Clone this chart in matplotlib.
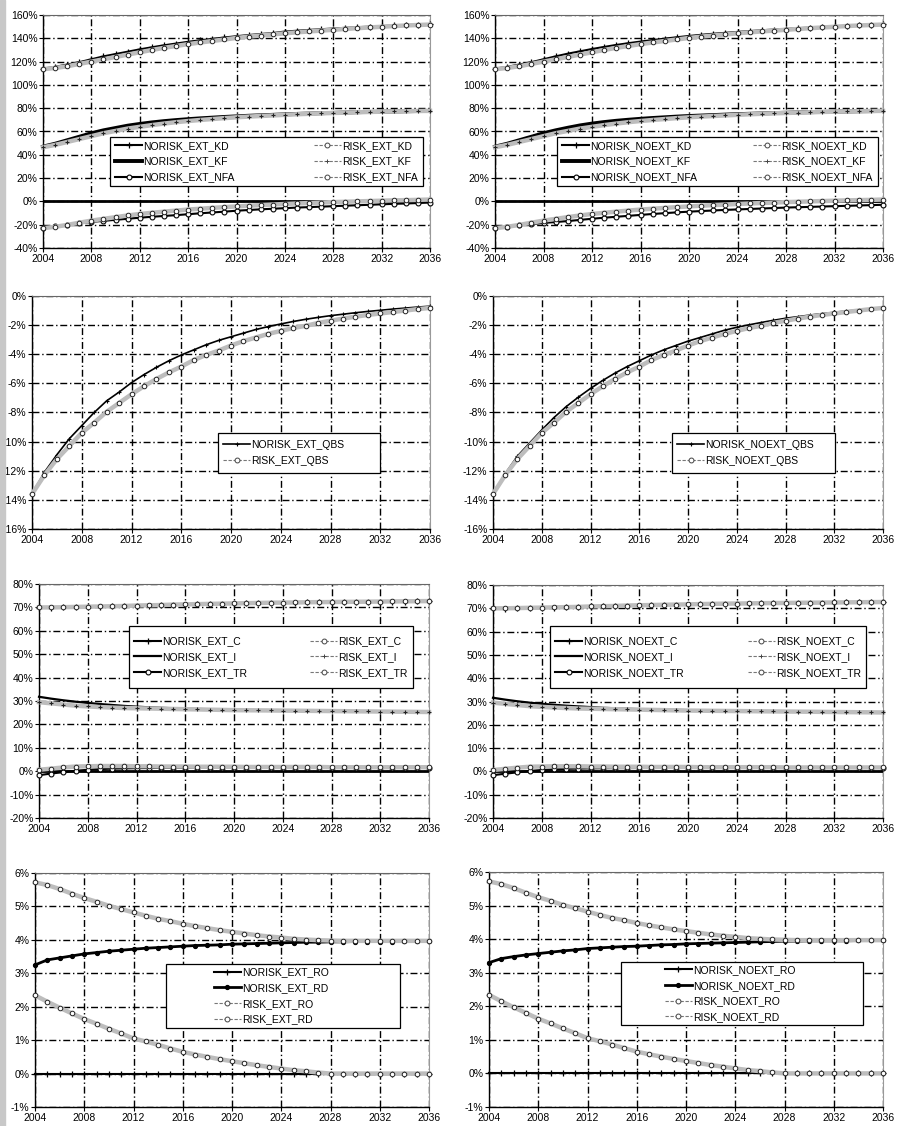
import matplotlib
matplotlib.use('Agg')
import matplotlib.pyplot as plt
from matplotlib.lines import Line2D
from matplotlib.patches import Rectangle
from matplotlib.ticker import FuncFormatter

plt.rcParams['font.family'] = ['Liberation Sans Narrow', 'Liberation Sans', 'DejaVu Sans']

years = list(range(2004, 2037))
xticks = [2004, 2008, 2012, 2016, 2020, 2024, 2028, 2032, 2036]

# --- Capital / NFA (% of GDP) ---
norisk_ext_kd = [114.0, 115.5, 117.5, 119.5, 122.0, 124.5, 126.5, 128.5, 130.5, 132.3, 134.0, 135.5, 137.0,
                 138.3, 139.5, 140.7, 141.8, 142.8, 143.7, 144.5, 145.8, 146.5, 147.2, 147.8, 148.4, 149.0,
                 149.5, 150.0, 150.5, 151.0, 151.4, 151.8, 152.2]
risk_ext_kd = [113.5, 114.5, 116.0, 118.0, 120.0, 122.0, 124.0, 126.0, 128.0, 130.0, 131.8, 133.4, 135.0,
               136.4, 137.7, 139.0, 140.3, 141.4, 142.4, 143.3, 144.3, 145.1, 145.9, 146.6, 147.3, 148.0,
               148.7, 149.3, 149.9, 150.5, 151.0, 151.4, 151.8]
norisk_ext_kf = [47.0, 49.5, 52.5, 55.5, 58.5, 61.0, 63.0, 65.0, 66.5, 67.8, 68.9, 69.8, 70.6, 71.3, 71.9,
                 72.5, 73.0, 73.5, 73.9, 74.3, 74.7, 75.1, 75.4, 75.7, 76.0, 76.3, 76.6, 76.8, 77.0, 77.2,
                 77.4, 77.6, 77.7]
risk_ext_kf = [46.5, 48.5, 51.0, 53.5, 56.0, 58.5, 60.5, 62.5, 64.0, 65.5, 66.8, 68.0, 69.0, 69.9, 70.7,
               71.5, 72.2, 72.8, 73.3, 73.8, 74.3, 74.8, 75.2, 75.6, 75.9, 76.2, 76.5, 76.8, 77.0, 77.2,
               77.4, 77.6, 77.7]
norisk_ext_nfa = [-22.5, -21.5, -20.2, -18.9, -17.6, -16.7, -15.8, -14.9, -14.0, -13.2, -12.5, -11.8, -11.0,
                  -10.2, -9.5, -8.8, -8.0, -7.4, -6.8, -6.3, -5.8, -5.3, -4.9, -4.5, -4.1, -3.7, -3.3, -2.9,
                  -2.5, -2.1, -1.8, -1.4, -1.0]
risk_ext_nfa = [-23.0, -21.8, -20.2, -18.3, -16.5, -15.0, -13.5, -12.1, -10.8, -9.8, -8.8, -7.9, -7.0, -6.3,
                -5.6, -4.9, -4.3, -3.7, -3.2, -2.7, -2.2, -1.8, -1.4, -1.0, -0.6, -0.3, 0.0, 0.3, 0.6, 0.9,
                1.1, 1.3, 1.6]

norisk_noext_kd = [114.0, 115.5, 117.5, 119.5, 122.0, 124.5, 126.8, 128.8, 130.8, 132.6, 134.3, 135.8, 137.2,
                   138.5, 139.7, 140.9, 142.0, 143.0, 143.9, 144.7, 145.5, 146.2, 146.9, 147.5, 148.1, 148.7,
                   149.2, 149.7, 150.2, 150.7, 151.1, 151.5, 151.9]
risk_noext_kd = [113.5, 114.5, 116.0, 118.0, 120.0, 122.0, 124.0, 126.0, 128.0, 130.0, 131.8, 133.4, 135.0,
                 136.4, 137.7, 139.0, 140.3, 141.4, 142.4, 143.3, 144.3, 145.1, 145.9, 146.6, 147.3, 148.0,
                 148.7, 149.3, 149.9, 150.5, 151.0, 151.4, 151.8]
norisk_noext_kf = [47.0, 49.5, 52.5, 55.5, 58.5, 61.0, 63.2, 65.2, 66.8, 68.1, 69.2, 70.1, 70.9, 71.6, 72.2,
                   72.8, 73.3, 73.7, 74.1, 74.5, 74.9, 75.2, 75.5, 75.8, 76.1, 76.4, 76.6, 76.8, 77.0, 77.2,
                   77.4, 77.5, 77.6]
risk_noext_kf = [46.5, 48.5, 51.0, 53.5, 56.0, 58.5, 60.5, 62.5, 64.0, 65.5, 66.8, 68.0, 69.0, 69.9, 70.7,
                 71.5, 72.2, 72.8, 73.3, 73.8, 74.3, 74.8, 75.2, 75.6, 75.9, 76.2, 76.5, 76.8, 77.0, 77.2,
                 77.4, 77.6, 77.7]
norisk_noext_nfa = [-22.5, -21.6, -20.6, -19.5, -18.5, -17.7, -16.9, -15.9, -14.9, -14.0, -13.2, -12.4, -11.6,
                    -10.8, -10.1, -9.4, -8.8, -8.3, -7.8, -7.3, -6.9, -6.5, -6.1, -5.7, -5.3, -5.0, -4.7, -4.4,
                    -4.1, -3.8, -3.5, -3.2, -2.9]
risk_noext_nfa = [-23.0, -21.8, -20.2, -18.3, -16.5, -15.0, -13.5, -12.1, -10.8, -9.8, -8.8, -7.9, -7.0, -6.3,
                  -5.6, -4.9, -4.3, -3.7, -3.2, -2.7, -2.2, -1.8, -1.4, -1.0, -0.6, -0.3, 0.0, 0.3, 0.6, 0.9,
                  1.1, 1.3, 1.6]

# --- QBS ---
norisk_ext_qbs = [-13.6, -12.1, -10.9, -9.8, -8.9, -8.0, -7.2, -6.6, -5.95, -5.4, -4.9, -4.45, -4.05, -3.7,
                  -3.35, -3.05, -2.8, -2.55, -2.3, -2.1, -1.92, -1.75, -1.6, -1.47, -1.35, -1.25, -1.15, -1.06,
                  -0.98, -0.9, -0.83, -0.76, -0.7]
risk_ext_qbs = [-13.6, -12.3, -11.2, -10.3, -9.4, -8.7, -7.95, -7.35, -6.75, -6.2, -5.7, -5.25, -4.85, -4.4,
                -4.05, -3.75, -3.4, -3.1, -2.85, -2.6, -2.4, -2.2, -2.05, -1.85, -1.7, -1.55, -1.42, -1.3,
                -1.2, -1.1, -1.0, -0.9, -0.82]
norisk_noext_qbs = [-13.6, -12.2, -11.0, -10.1, -9.2, -8.35, -7.6, -6.95, -6.35, -5.8, -5.3, -4.85, -4.45,
                    -4.05, -3.7, -3.4, -3.1, -2.85, -2.6, -2.35, -2.15, -1.98, -1.82, -1.67, -1.53, -1.42,
                    -1.31, -1.21, -1.12, -1.03, -0.96, -0.89, -0.82]
risk_noext_qbs = [-13.6, -12.3, -11.2, -10.3, -9.4, -8.7, -7.95, -7.35, -6.75, -6.2, -5.7, -5.25, -4.85, -4.4,
                  -4.05, -3.75, -3.4, -3.1, -2.85, -2.6, -2.4, -2.2, -2.05, -1.85, -1.7, -1.55, -1.42, -1.3,
                  -1.2, -1.1, -1.0, -0.9, -0.82]

# --- C, I, TR ---
norisk_ext_c = [69.8, 69.9, 70.0, 70.1, 70.2, 70.3, 70.4, 70.5, 70.6, 70.8, 70.9, 71.0, 71.1, 71.3, 71.4, 71.5,
                71.6, 71.7, 71.8, 71.9, 72.0, 72.0, 72.1, 72.2, 72.2, 72.3, 72.3, 72.4, 72.4, 72.5, 72.5, 72.6,
                72.6]
risk_ext_c = [70.0, 70.0, 70.1, 70.2, 70.3, 70.4, 70.5, 70.6, 70.8, 70.9, 71.0, 71.2, 71.3, 71.4, 71.5, 71.6,
              71.7, 71.8, 71.9, 72.0, 72.05, 72.1, 72.2, 72.25, 72.3, 72.35, 72.4, 72.45, 72.5, 72.55, 72.6,
              72.65, 72.7]
norisk_ext_i = [31.8, 31.0, 30.3, 29.7, 29.2, 28.7, 28.3, 27.9, 27.6, 27.3, 27.1, 26.9, 26.7, 26.6, 26.5, 26.4,
                26.3, 26.2, 26.1, 26.0, 25.9, 25.85, 25.8, 25.75, 25.7, 25.65, 25.6, 25.55, 25.5, 25.45, 25.4,
                25.35, 25.3]
risk_ext_i = [29.5, 29.0, 28.5, 28.0, 27.7, 27.4, 27.2, 27.0, 26.9, 26.8, 26.7, 26.6, 26.5, 26.4, 26.3, 26.2,
              26.1, 26.05, 26.0, 25.95, 25.9, 25.85, 25.8, 25.75, 25.7, 25.65, 25.6, 25.55, 25.5, 25.45, 25.4,
              25.35, 25.3]
norisk_ext_tr = [-1.7, -1.0, -0.4, 0.2, 0.6, 0.9, 1.1, 1.2, 1.3, 1.35, 1.4, 1.4, 1.45, 1.45, 1.5, 1.5, 1.5,
                 1.5, 1.5, 1.5, 1.5, 1.5, 1.5, 1.5, 1.5, 1.5, 1.5, 1.5, 1.5, 1.5, 1.5, 1.5, 1.5]
risk_ext_tr = [0.6, 1.1, 1.6, 2.0, 2.1, 2.2, 2.2, 2.2, 2.1, 2.1, 2.0, 2.0, 2.0, 1.9, 1.9, 1.9, 1.9, 1.8, 1.8,
               1.8, 1.8, 1.8, 1.8, 1.8, 1.7, 1.7, 1.7, 1.7, 1.7, 1.7, 1.7, 1.7, 1.7]

norisk_noext_c = [69.8, 69.9, 70.0, 70.1, 70.2, 70.3, 70.4, 70.5, 70.6, 70.8, 70.9, 71.0, 71.1, 71.3, 71.4,
                  71.5, 71.6, 71.7, 71.8, 71.9, 72.0, 72.0, 72.1, 72.2, 72.2, 72.3, 72.3, 72.4, 72.4, 72.5,
                  72.5, 72.6, 72.6]
risk_noext_c = [70.0, 70.0, 70.1, 70.2, 70.3, 70.4, 70.5, 70.6, 70.8, 70.9, 71.0, 71.2, 71.3, 71.4, 71.5,
                71.6, 71.7, 71.8, 71.9, 72.0, 72.05, 72.1, 72.2, 72.25, 72.3, 72.35, 72.4, 72.45, 72.5, 72.55,
                72.6, 72.65, 72.7]
norisk_noext_i = [31.6, 30.8, 30.1, 29.5, 29.0, 28.6, 28.2, 27.9, 27.6, 27.3, 27.1, 26.9, 26.7, 26.6, 26.5,
                  26.4, 26.3, 26.2, 26.1, 26.0, 25.9, 25.85, 25.8, 25.75, 25.7, 25.65, 25.6, 25.55, 25.5,
                  25.45, 25.4, 25.35, 25.3]
risk_noext_i = [29.5, 29.0, 28.5, 28.0, 27.7, 27.4, 27.2, 27.0, 26.9, 26.8, 26.7, 26.6, 26.5, 26.4, 26.3,
                26.2, 26.1, 26.05, 26.0, 25.95, 25.9, 25.85, 25.8, 25.75, 25.7, 25.65, 25.6, 25.55, 25.5,
                25.45, 25.4, 25.35, 25.3]
norisk_noext_tr = [-1.6, -1.0, -0.4, 0.2, 0.6, 0.9, 1.1, 1.2, 1.3, 1.35, 1.4, 1.4, 1.45, 1.45, 1.5, 1.5, 1.5,
                   1.5, 1.5, 1.5, 1.5, 1.5, 1.5, 1.5, 1.5, 1.5, 1.5, 1.5, 1.5, 1.5, 1.5, 1.5, 1.5]
risk_noext_tr = [0.6, 1.1, 1.6, 2.0, 2.1, 2.2, 2.2, 2.2, 2.1, 2.1, 2.0, 2.0, 2.0, 1.9, 1.9, 1.9, 1.9, 1.8,
                 1.8, 1.8, 1.8, 1.8, 1.8, 1.8, 1.7, 1.7, 1.7, 1.7, 1.7, 1.7, 1.7, 1.7, 1.7]

# --- RO, RD ---
norisk_ext_ro = [0.0, 0.0, 0.0, 0.0, 0.0, 0.0, 0.0, 0.0, 0.0, 0.0, 0.0, 0.0, 0.0, 0.0, 0.0, 0.0, 0.0, 0.0,
                 0.0, 0.0, 0.0, 0.0, 0.0, 0.0, 0.0, 0.0, 0.0, 0.0, 0.0, 0.0, 0.0, 0.0, 0.0]
norisk_ext_rd = [3.25, 3.40, 3.46, 3.52, 3.58, 3.62, 3.66, 3.69, 3.72, 3.75, 3.77, 3.79, 3.81, 3.83, 3.84,
                 3.85, 3.87, 3.88, 3.89, 3.90, 3.91, 3.92, 3.93, 3.93, 3.94, 3.94, 3.95, 3.95, 3.95, 3.95,
                 3.96, 3.96, 3.96]
risk_ext_ro = [2.34, 2.15, 1.97, 1.80, 1.63, 1.49, 1.34, 1.20, 1.05, 0.96, 0.86, 0.75, 0.65, 0.57, 0.50,
               0.43, 0.37, 0.31, 0.25, 0.20, 0.15, 0.10, 0.07, 0.03, 0.0, 0.0, 0.0, 0.0, 0.0, 0.0, 0.0,
               0.0, 0.0]
risk_ext_rd = [5.72, 5.64, 5.52, 5.38, 5.25, 5.14, 5.02, 4.92, 4.82, 4.72, 4.63, 4.56, 4.48, 4.41, 4.35,
               4.29, 4.24, 4.19, 4.14, 4.10, 4.07, 4.03, 4.01, 3.99, 3.98, 3.97, 3.97, 3.97, 3.97, 3.97,
               3.97, 3.97, 3.97]
norisk_noext_ro = [0.0, 0.0, 0.0, 0.0, 0.0, 0.0, 0.0, 0.0, 0.0, 0.0, 0.0, 0.0, 0.0, 0.0, 0.0, 0.0, 0.0, 0.0,
                   0.0, 0.0, 0.0, 0.0, 0.0, 0.0, 0.0, 0.0, 0.0, 0.0, 0.0, 0.0, 0.0, 0.0, 0.0]
norisk_noext_rd = [3.30, 3.42, 3.48, 3.53, 3.57, 3.61, 3.65, 3.68, 3.72, 3.74, 3.76, 3.78, 3.79, 3.81, 3.83,
                   3.84, 3.86, 3.87, 3.88, 3.89, 3.90, 3.91, 3.92, 3.93, 3.94, 3.94, 3.95, 3.95, 3.95, 3.95,
                   3.96, 3.96, 3.96]
risk_noext_ro = [2.34, 2.15, 1.97, 1.80, 1.63, 1.49, 1.34, 1.20, 1.05, 0.96, 0.86, 0.75, 0.65, 0.57, 0.50,
                 0.43, 0.37, 0.31, 0.25, 0.20, 0.15, 0.10, 0.07, 0.03, 0.0, 0.0, 0.0, 0.0, 0.0, 0.0, 0.0,
                 0.0, 0.0]
risk_noext_rd = [5.72, 5.64, 5.52, 5.38, 5.25, 5.14, 5.02, 4.92, 4.82, 4.72, 4.63, 4.56, 4.48, 4.41, 4.35,
                 4.29, 4.24, 4.19, 4.14, 4.10, 4.07, 4.03, 4.01, 3.99, 3.98, 3.97, 3.97, 3.97, 3.97, 3.97,
                 3.97, 3.97, 3.97]

W, H = 901, 1126
fig = plt.figure(figsize=(W / 100, H / 100), dpi=100)
fig.patches.append(Rectangle((0, 0), 5 / W, 1, transform=fig.transFigure, color='#c8c8c8', zorder=0))

GRAY = '#bdbdbd'

NOR = {
    'plus': dict(color='black', lw=1.5, marker='+', ms=4, mew=0.9),
    'thick': dict(color='black', lw=2.8, marker=None),
    'circ': dict(color='black', lw=1.5, marker='o', ms=3.5, mfc='white', mec='black', mew=0.8),
    'plain': dict(color='black', lw=1.6, marker=None),
    'dot': dict(color='black', lw=2.0, marker='o', ms=2.8, mfc='black', mec='black'),
    'thinplus': dict(color='black', lw=1.2, marker='+', ms=3.5, mew=0.8),
}
RSK = {
    'circ': dict(color=GRAY, lw=3.2, marker='o', ms=3.3, mfc='white', mec='#222222', mew=0.7),
    'plus': dict(color=GRAY, lw=3.2, marker='+', ms=3.5, mec='#222222', mew=0.8),
}


def pct(v, pos):
    return '%d%%' % round(v)


def legend_handle(style, risk):
    if risk:
        s = RSK[style]
        return Line2D([], [], color='#777777', lw=0.8, ls=(0, (3, 1.5)), marker=s['marker'], ms=3.5,
                      mfc='white', mec='#444444', mew=0.7)
    return Line2D([], [], **NOR[style])


def panel(px, ylim, ystep, series, leg_px, ncol, zero_line=True, centered=False):
    x0, x1, top, bot = px
    ax = fig.add_axes([x0 / W, 1 - bot / H, (x1 - x0) / W, (bot - top) / H])
    ax.set_xlim(2004, 2036)
    ax.set_ylim(*ylim)
    ax.set_xticks(xticks)
    yt = []
    v = ylim[0]
    while v <= ylim[1] + 1e-9:
        yt.append(v)
        v += ystep
    ax.set_yticks(yt)
    ax.yaxis.set_major_formatter(FuncFormatter(pct))
    ax.tick_params(direction='out', length=3, width=0.8, labelsize=7.5, pad=1, colors='black')
    ax.grid(True, color='black', lw=1.0, ls=(0, (5, 2, 1, 2)))
    ax.set_axisbelow(True)
    for s in ['left', 'bottom']:
        ax.spines[s].set_linewidth(1.0)
        ax.spines[s].set_color('black')
    ax.spines['top'].set_color('#666666')
    ax.spines['top'].set_linewidth(0.8)
    ax.spines['right'].set_color('#999999')
    ax.spines['right'].set_linewidth(0.8)
    if zero_line:
        ax.axhline(0, color='black', lw=2.0, zorder=2.5)
    for name, vals, style, risk in series:
        if not risk:
            ax.plot(years, vals, zorder=3, clip_on=False, **NOR[style])
    for name, vals, style, risk in series:
        if risk:
            ax.plot(years, vals, zorder=4, clip_on=False, **RSK[style])
    handles = [legend_handle(style, risk) for name, vals, style, risk in series]
    labels = [name for name, vals, style, risk in series]

    # legend box drawn separately so its size matches the original
    lx0, ly0, lx1, ly1 = leg_px
    box = Rectangle((lx0 / W, 1 - ly1 / H), (lx1 - lx0) / W, (ly1 - ly0) / H, transform=fig.transFigure,
                    facecolor='white', edgecolor='black', lw=0.9, zorder=9, clip_on=False)
    ax.add_patch(box)
    kw = dict(loc='center', ncol=ncol, bbox_transform=fig.transFigure, fontsize=7.5, frameon=False,
              labelspacing=0.55, handlelength=2.6, handletextpad=0.1, borderaxespad=0, columnspacing=1.0,
              borderpad=0.5)
    if centered:
        leg = ax.legend(handles, labels, bbox_to_anchor=((lx0 + lx1) / 2 / W - 12 / W, 1 - (ly0 + ly1) / 2 / H),
                        **kw)
    else:
        leg = ax.legend(handles, labels, mode='expand',
                        bbox_to_anchor=(lx0 / W, 1 - ly1 / H, (lx1 - lx0) / W, (ly1 - ly0) / H), **kw)
    leg.set_zorder(10)
    return ax


# Row 1
panel((43, 430, 15, 248), (-40, 160), 20, [
    ('NORISK_EXT_KD', norisk_ext_kd, 'plus', False),
    ('NORISK_EXT_KF', norisk_ext_kf, 'thick', False),
    ('NORISK_EXT_NFA', norisk_ext_nfa, 'circ', False),
    ('RISK_EXT_KD', risk_ext_kd, 'circ', True),
    ('RISK_EXT_KF', risk_ext_kf, 'plus', True),
    ('RISK_EXT_NFA', risk_ext_nfa, 'circ', True),
], (110, 137, 423, 186), 2)

panel((495, 883, 15, 248), (-40, 160), 20, [
    ('NORISK_NOEXT_KD', norisk_noext_kd, 'plus', False),
    ('NORISK_NOEXT_KF', norisk_noext_kf, 'thick', False),
    ('NORISK_NOEXT_NFA', norisk_noext_nfa, 'circ', False),
    ('RISK_NOEXT_KD', risk_noext_kd, 'circ', True),
    ('RISK_NOEXT_KF', risk_noext_kf, 'plus', True),
    ('RISK_NOEXT_NFA', risk_noext_nfa, 'circ', True),
], (557, 137, 878, 186), 2)

# Row 2
panel((32, 430, 296, 529), (-16, 0), 2, [
    ('NORISK_EXT_QBS', norisk_ext_qbs, 'thinplus', False),
    ('RISK_EXT_QBS', risk_ext_qbs, 'circ', True),
], (218, 433, 380, 473), 1, zero_line=False)

panel((493, 883, 296, 529), (-16, 0), 2, [
    ('NORISK_NOEXT_QBS', norisk_noext_qbs, 'thinplus', False),
    ('RISK_NOEXT_QBS', risk_noext_qbs, 'circ', True),
], (672, 433, 835, 473), 1, zero_line=False)

# Row 3
panel((39, 429, 584, 818), (-20, 80), 10, [
    ('NORISK_EXT_C', norisk_ext_c, 'plus', False),
    ('NORISK_EXT_I', norisk_ext_i, 'plain', False),
    ('NORISK_EXT_TR', norisk_ext_tr, 'circ', False),
    ('RISK_EXT_C', risk_ext_c, 'circ', True),
    ('RISK_EXT_I', risk_ext_i, 'plus', True),
    ('RISK_EXT_TR', risk_ext_tr, 'circ', True),
], (129, 626, 413, 688), 2)

panel((493, 883, 585, 818), (-20, 80), 10, [
    ('NORISK_NOEXT_C', norisk_noext_c, 'plus', False),
    ('NORISK_NOEXT_I', norisk_noext_i, 'plain', False),
    ('NORISK_NOEXT_TR', norisk_noext_tr, 'circ', False),
    ('RISK_NOEXT_C', risk_noext_c, 'circ', True),
    ('RISK_NOEXT_I', risk_noext_i, 'plus', True),
    ('RISK_NOEXT_TR', risk_noext_tr, 'circ', True),
], (550, 626, 866, 688), 2)

# Row 4
panel((35, 429, 873, 1107), (-1, 6), 1, [
    ('NORISK_EXT_RO', norisk_ext_ro, 'plus', False),
    ('NORISK_EXT_RD', norisk_ext_rd, 'dot', False),
    ('RISK_EXT_RO', risk_ext_ro, 'circ', True),
    ('RISK_EXT_RD', risk_ext_rd, 'circ', True),
], (166, 964, 400, 1028), 1, zero_line=False, centered=True)

panel((489, 883, 872, 1107), (-1, 6), 1, [
    ('NORISK_NOEXT_RO', norisk_noext_ro, 'plus', False),
    ('NORISK_NOEXT_RD', norisk_noext_rd, 'dot', False),
    ('RISK_NOEXT_RO', risk_noext_ro, 'circ', True),
    ('RISK_NOEXT_RD', risk_noext_rd, 'circ', True),
], (621, 962, 863, 1025), 1, zero_line=False, centered=True)

fig.savefig('out.png', dpi=100)
